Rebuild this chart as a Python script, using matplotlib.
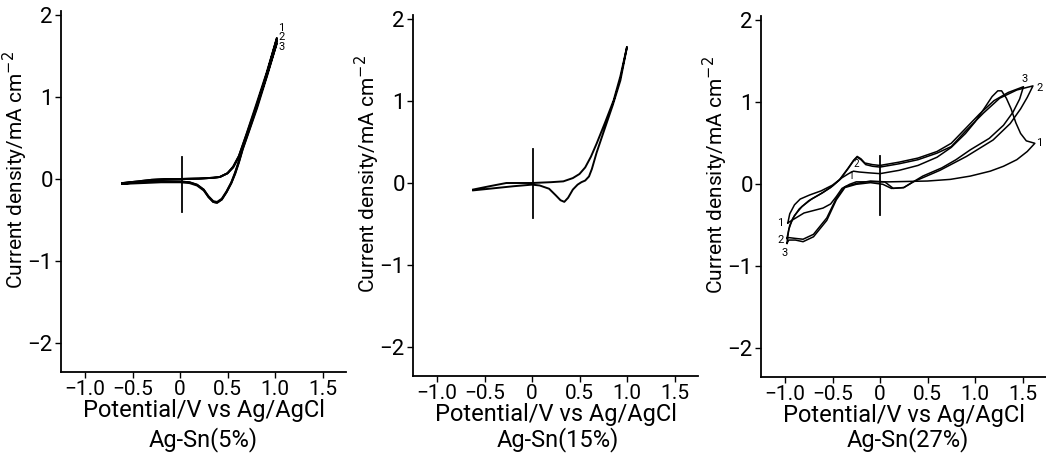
import matplotlib
matplotlib.use('Agg')
import matplotlib.pyplot as plt

plt.rcParams['font.family'] = ['Roboto', 'DejaVu Sans']

# ---- Ag-Sn(5%) : three cycles, almost on top of each other
p5_c1_x = [-0.61, -0.45, -0.3, -0.15, 0.0, 0.2, 0.35, 0.42, 0.50, 0.56, 0.62, 0.70, 0.80, 0.91, 1.02,
           0.92, 0.81, 0.72, 0.66, 0.62, 0.58, 0.54, 0.49, 0.44, 0.39, 0.35, 0.30, 0.25, 0.18, 0.10, 0.0, -0.2, -0.4, -0.61]
p5_c1_y = [-0.05, -0.03, -0.01, 0.0, 0.0, 0.005, 0.015, 0.025, 0.07, 0.15, 0.28, 0.55, 0.90, 1.29, 1.72,
           1.31, 0.90, 0.58, 0.38, 0.22, 0.08, -0.04, -0.15, -0.24, -0.28, -0.27, -0.21, -0.13, -0.07, -0.04, -0.03, -0.03, -0.04, -0.05]
p5_c2_x = [-0.61, -0.45, -0.3, -0.15, 0.0, 0.2, 0.35, 0.42, 0.50, 0.56, 0.62, 0.70, 0.80, 0.91, 1.02,
           0.92, 0.81, 0.72, 0.66, 0.62, 0.58, 0.54, 0.49, 0.44, 0.39, 0.35, 0.30, 0.25, 0.18, 0.10, 0.0, -0.2, -0.4, -0.61]
p5_c2_y = [-0.05, -0.03, -0.01, 0.0, 0.0, 0.005, 0.015, 0.025, 0.07, 0.15, 0.28, 0.54, 0.88, 1.27, 1.69,
           1.29, 0.88, 0.57, 0.37, 0.21, 0.07, -0.05, -0.16, -0.25, -0.29, -0.28, -0.22, -0.13, -0.07, -0.04, -0.03, -0.03, -0.04, -0.05]
p5_c3_x = [-0.61, -0.45, -0.3, -0.15, 0.0, 0.2, 0.35, 0.42, 0.50, 0.56, 0.62, 0.70, 0.80, 0.91, 1.02,
           0.92, 0.81, 0.72, 0.66, 0.62, 0.58, 0.54, 0.49, 0.44, 0.39, 0.35, 0.30, 0.25, 0.18, 0.10, 0.0, -0.2, -0.4, -0.61]
p5_c3_y = [-0.06, -0.04, -0.02, -0.01, 0.0, 0.005, 0.015, 0.025, 0.07, 0.14, 0.27, 0.53, 0.86, 1.25, 1.66,
           1.27, 0.86, 0.56, 0.36, 0.20, 0.06, -0.05, -0.16, -0.25, -0.29, -0.28, -0.22, -0.14, -0.08, -0.05, -0.04, -0.04, -0.05, -0.06]

# ---- Ag-Sn(15%)
p15_x = [-0.62, -0.45, -0.27, 0.0, 0.2, 0.33, 0.43, 0.50, 0.56, 0.62, 0.68, 0.77, 0.86, 0.93, 1.0,
         0.93, 0.85, 0.75, 0.68, 0.63, 0.60, 0.56, 0.52, 0.48, 0.43, 0.38, 0.34, 0.30, 0.25, 0.18, 0.08, 0.0, -0.2, -0.45, -0.62]
p15_y = [-0.08, -0.04, 0.0, 0.0, 0.01, 0.02, 0.06, 0.11, 0.19, 0.32, 0.48, 0.74, 1.01, 1.30, 1.66,
         1.25, 0.95, 0.61, 0.37, 0.17, 0.08, 0.03, 0.01, -0.02, -0.08, -0.18, -0.23, -0.21, -0.15, -0.07, -0.03, -0.02, -0.04, -0.07, -0.09]

# ---- Ag-Sn(27%) : three cycles
p27_c1_x = [-0.97, -0.95, -0.90, -0.84, -0.74, -0.62, -0.50, -0.40, -0.33, -0.28, -0.22, -0.12, 0.0, 0.2, 0.4, 0.6, 0.75,
            0.90, 1.0, 1.1, 1.18, 1.24, 1.28, 1.33, 1.38, 1.43, 1.48, 1.54, 1.63,
            1.55, 1.44, 1.30, 1.16, 0.95, 0.74, 0.50, 0.30, 0.10, -0.10, -0.25, -0.32, -0.40, -0.46, -0.52, -0.60, -0.70, -0.80, -0.90, -0.97]
p27_c1_y = [-0.47, -0.36, -0.25, -0.18, -0.13, -0.08, -0.01, 0.08, 0.13, 0.16, 0.15, 0.14, 0.13, 0.17, 0.23, 0.33, 0.45,
            0.62, 0.76, 0.93, 1.07, 1.14, 1.14, 1.05, 0.92, 0.75, 0.62, 0.53, 0.50,
            0.40, 0.30, 0.22, 0.16, 0.10, 0.06, 0.04, 0.035, 0.03, 0.03, 0.03, 0.0, -0.05, -0.15, -0.24, -0.29, -0.32, -0.35, -0.42, -0.47]
p27_c2_x = [-0.98, -0.95, -0.90, -0.82, -0.72, -0.60, -0.50, -0.42, -0.33, -0.27, -0.24, -0.20, -0.15, -0.08, 0.0, 0.2, 0.4,
            0.6, 0.75, 0.91, 1.09, 1.26, 1.44, 1.61,
            1.55, 1.48, 1.37, 1.19, 0.91, 0.63, 0.45, 0.35, 0.25, 0.14, 0.05, -0.10, -0.25, -0.37, -0.46, -0.56, -0.70, -0.81, -0.89, -0.96, -0.98]
p27_c2_y = [-0.66, -0.50, -0.38, -0.27, -0.18, -0.10, -0.02, 0.06, 0.20, 0.30, 0.33, 0.30, 0.24, 0.22, 0.21, 0.25, 0.30,
            0.38, 0.46, 0.66, 0.87, 1.05, 1.15, 1.20,
            1.06, 0.92, 0.74, 0.54, 0.34, 0.17, 0.08, 0.03, -0.04, -0.05, 0.03, 0.04, 0.01, -0.03, -0.17, -0.41, -0.61, -0.67, -0.66, -0.65, -0.66]
p27_c3_x = [-0.98, -0.96, -0.92, -0.85, -0.75, -0.63, -0.52, -0.43, -0.34, -0.28, -0.24, -0.20, -0.16, -0.08, 0.0, 0.2, 0.4,
            0.6, 0.75, 0.90, 1.05, 1.20, 1.35, 1.51,
            1.47, 1.40, 1.30, 1.15, 0.95, 0.80, 0.65, 0.45, 0.35, 0.25, 0.12, 0.03, -0.10, -0.25, -0.37, -0.46, -0.56, -0.70, -0.81, -0.89, -0.96, -0.98]
p27_c3_y = [-0.72, -0.55, -0.42, -0.30, -0.20, -0.12, -0.04, 0.05, 0.19, 0.29, 0.34, 0.31, 0.26, 0.24, 0.23, 0.27, 0.32,
            0.40, 0.50, 0.68, 0.86, 1.02, 1.12, 1.19,
            1.04, 0.88, 0.72, 0.56, 0.42, 0.30, 0.20, 0.10, 0.03, -0.04, -0.05, 0.0, 0.02, 0.0, -0.04, -0.19, -0.44, -0.64, -0.70, -0.68, -0.68, -0.72]

# vertical marker at 0 V (bottom, top) for each panel
mark_5 = [-0.40, 0.27]
mark_15 = [-0.43, 0.42]
mark_27 = [-0.37, 0.34]

alloys = ['Ag-Sn(5%)', 'Ag-Sn(15%)', 'Ag-Sn(27%)']
xticks = [-1.0, -0.5, 0, 0.5, 1.0, 1.5]
xticklabels = ['\u22121.0', '\u22120.5', '0', '0.5', '1.0', '1.5']
yticks = [-2, -1, 0, 1, 2]
yticklabels = ['\u22122', '\u22121', '0', '1', '2']

W, H = 1046, 458
fig = plt.figure(figsize=(W / 100, H / 100), dpi=100)

# pixel position of the origin in each panel
origins = [(180, 179), (532, 183), (880, 184.3)]
name_x = [203, 558, 908]
axes = []
for (x0, y0) in origins:
    left = x0 - 1.25 * 95
    bottom = y0 + 2.35 * 82
    ax = fig.add_axes([left / W, 1 - bottom / H, 3.0 * 95 / W, 4.4 * 82 / H])
    ax.set_xlim(-1.25, 1.75)
    ax.set_ylim(-2.35, 2.05)
    for s in ['top', 'right']:
        ax.spines[s].set_visible(False)
    ax.spines['left'].set_linewidth(1.3)
    ax.spines['bottom'].set_linewidth(1.3)
    ax.set_xticks(xticks)
    ax.set_xticklabels(xticklabels, fontsize=15)
    ax.set_yticks(yticks)
    ax.set_yticklabels(yticklabels, fontsize=16)
    ax.tick_params(direction='out', length=4, width=1, pad=2)
    ax.set_ylabel('Current density/mA cm$^{-2}$', fontsize=15)
    ax.yaxis.set_label_coords(-0.11, 0.56)
    ax.set_xlabel('Potential/V vs Ag/AgCl', fontsize=17, labelpad=0)
    axes.append(ax)

lw = 1.4
a1, a2, a3 = axes
a1.plot(p5_c1_x, p5_c1_y, 'k-', lw=lw)
a1.plot(p5_c2_x, p5_c2_y, 'k-', lw=lw)
a1.plot(p5_c3_x, p5_c3_y, 'k-', lw=lw)
a1.plot([0.02, 0.02], mark_5, 'k-', lw=1.3)
a1.text(1.07, 1.84, '1', fontsize=8, ha='center', va='center')
a1.text(1.07, 1.73, '2', fontsize=8, ha='center', va='center')
a1.text(1.07, 1.61, '3', fontsize=8, ha='center', va='center')

a2.plot(p15_x, p15_y, 'k-', lw=lw)
a2.plot([0.01, 0.01], mark_15, 'k-', lw=1.3)

a3.plot(p27_c1_x, p27_c1_y, 'k-', lw=1.1)
a3.plot(p27_c2_x, p27_c2_y, 'k-', lw=1.1)
a3.plot(p27_c3_x, p27_c3_y, 'k-', lw=1.1)
a3.plot([0.0, 0.0], mark_27, 'k-', lw=1.3)
a3.text(1.52, 1.28, '3', fontsize=8, ha='center', va='center')
a3.text(1.68, 1.18, '2', fontsize=8, ha='center', va='center')
a3.text(1.68, 0.50, '1', fontsize=8, ha='center', va='center')
a3.text(-1.05, -0.47, '1', fontsize=8, ha='center', va='center')
a3.text(-1.05, -0.68, '2', fontsize=8, ha='center', va='center')
a3.text(-1.00, -0.84, '3', fontsize=8, ha='center', va='center')
a3.text(-0.25, 0.25, '2', fontsize=7, ha='center', va='center')
a3.text(-0.31, 0.10, '1', fontsize=7, ha='center', va='center')

for nx, name in zip(name_x, alloys):
    fig.text(nx / W, 1 - 440 / H, name, fontsize=17, ha='center', va='center')

fig.savefig('out.png', dpi=100)
